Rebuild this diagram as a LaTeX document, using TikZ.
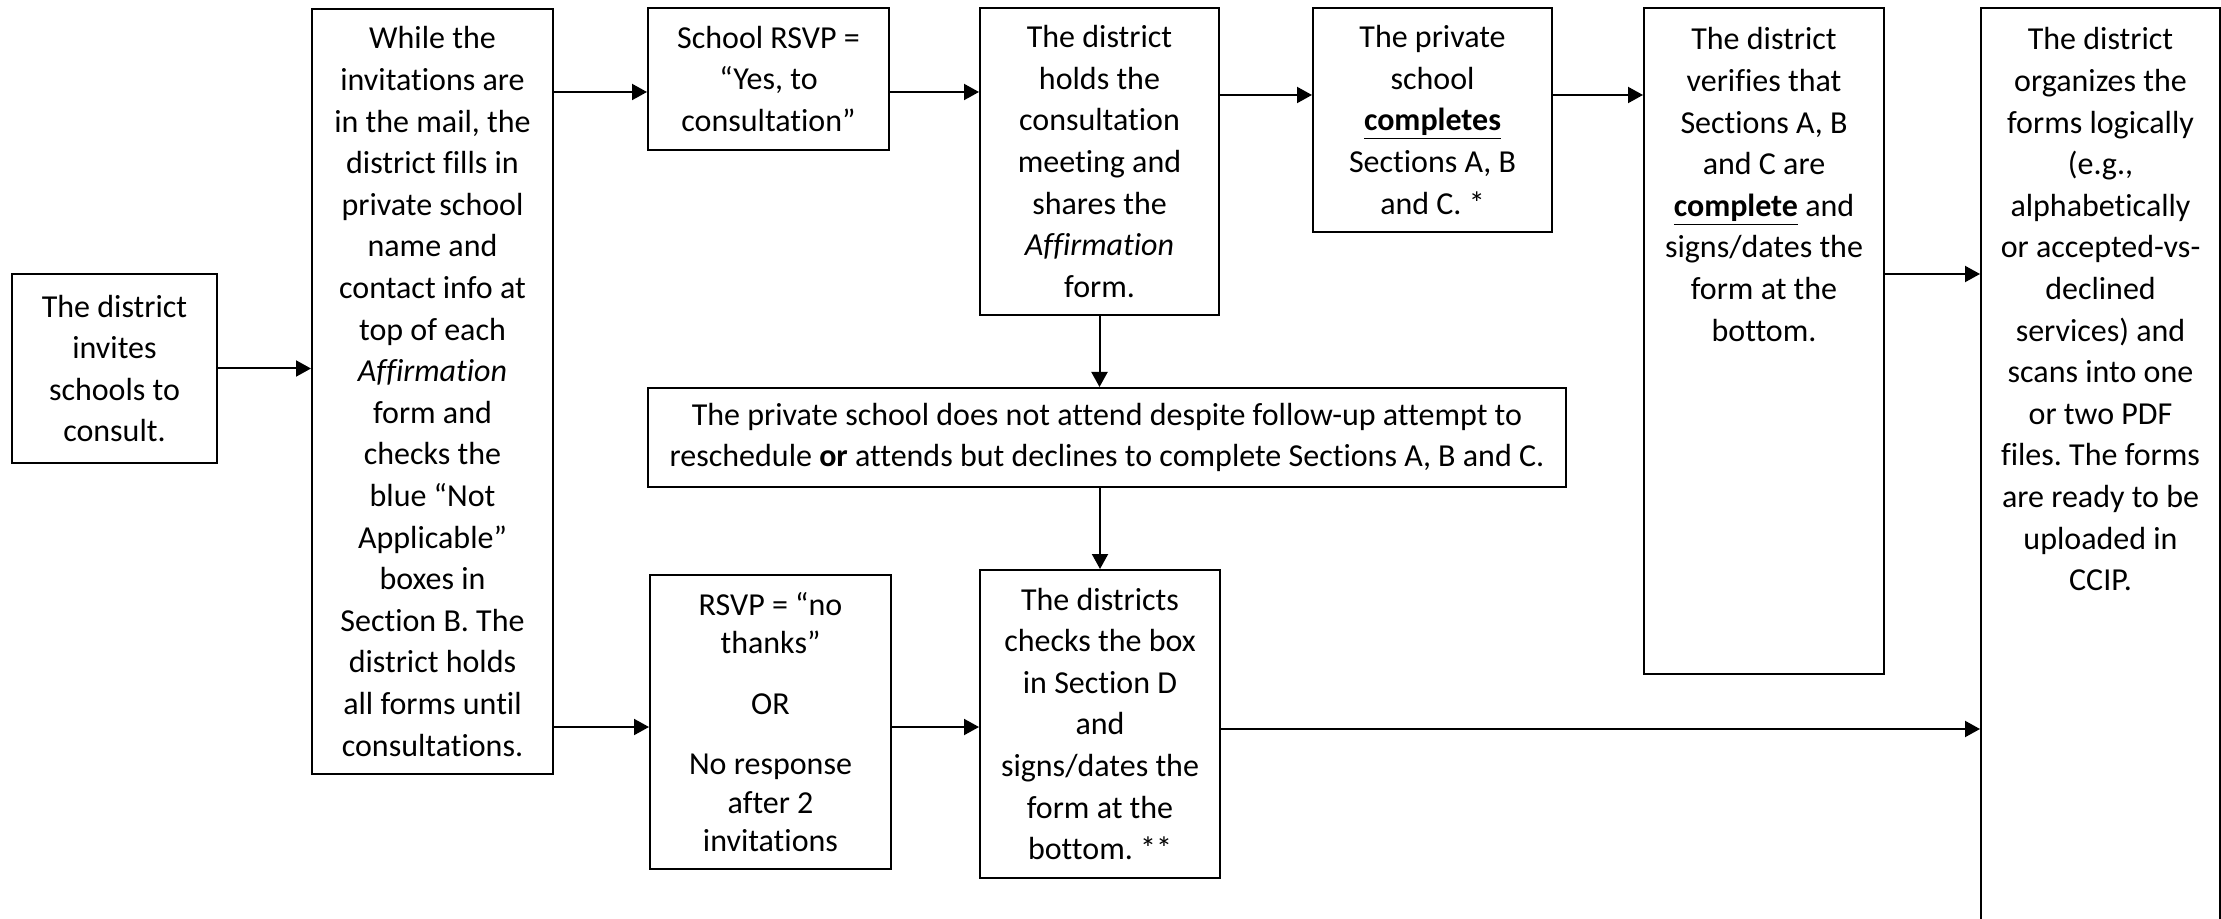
\documentclass[tikz,border=0pt]{standalone}
\usepackage{fontspec}
\setmainfont{Carlito}[Ligatures=NoCommon]
\frenchspacing
\usetikzlibrary{arrows.meta}
\tikzset{
box/.style={draw, line width=1pt, align=center, anchor=north west, inner sep=4pt, font=\fontsize{16}{20.8}\selectfont}, % every process box
topbox/.style={box, align=flush center, text height=17pt}, % text sits at the top of a tall box
arr/.style={-{Triangle[length=7.5pt,width=8pt]}, line width=1pt}, % the connectors
}

\begin{document}
\begin{tikzpicture}[x=0.5pt, y=-0.5pt]
\useasboundingbox (0,0) rectangle (2221,919);

\node[box, minimum width=102.5pt, minimum height=94.5pt] (invite) at (11,273) {The district\\ invites\\ schools to\\ consult.};
\node[box, minimum width=120.5pt, minimum height=382.5pt] (prep) at (311,8) {While the\\ invitations are\\ in the mail, the\\ district fills in\\ private school\\ name and\\ contact info at\\ top of each\\ \textit{Affirmation}\\ form and\\ checks the\\ blue “Not\\ Applicable”\\ boxes in\\ Section B. The\\ district holds\\ all forms until\\ consultations.};
\node[box, minimum width=120.5pt, minimum height=71pt] (yes) at (647,7) {School RSVP =\\ “Yes, to\\ consultation”};
\node[box, minimum width=119.5pt, minimum height=153.5pt] (meet) at (979,7) {The district\\ holds the\\ consultation\\ meeting and\\ shares the\\ \textit{Affirmation}\\ form.};
\node[box, minimum width=119.5pt, minimum height=112pt] (done) at (1312,7) {The private\\ school\\ \textbf{\underline{completes}}\\ Sections A, B\\ and C. *};
\node[topbox, text width=112pt, text depth=308pt] (check) at (1643,7) {The district\\ verifies that\\ Sections A, B\\ and C are\\ \textbf{\underline{complete}} and\\ signs/dates the\\ form at the\\ bottom.};
\node[topbox, text width=111.5pt, text depth=436.5pt] (org) at (1980,7) {The district\\ organizes the\\ forms logically\\ (e.g.,\\ alphabetically\\ or accepted-vs-\\ declined\\ services) and\\ scans into one\\ or two PDF\\ files. The forms\\ are ready to be\\ uploaded in\\ CCIP.};
\node[box, minimum width=459pt, minimum height=49.5pt, inner xsep=2pt] (skip) at (647,387) {The private school does not attend despite follow-up attempt to\\ reschedule \textbf{or} attends but declines to complete Sections A, B and C.};
\node[box, minimum width=120.5pt, minimum height=147pt, font=\fontsize{16}{19.2}\selectfont] (no) at (649,574) {RSVP = “no\\ thanks”\\[11pt] OR\\[11pt] No response\\ after 2\\ invitations};
\node[box, minimum width=120pt, minimum height=154pt] (sign) at (979,569) {The districts\\ checks the box\\ in Section D\\ and\\ signs/dates the\\ form at the\\ bottom. **};

\draw[arr] (invite.east) -- (prep.west |- invite.east);
\draw[arr] (prep.east |- 0,92) -- (yes.west |- 0,92);
\draw[arr] (yes.east |- 0,92) -- (meet.west |- 0,92);
\draw[arr] (meet.east |- 0,95) -- (done.west |- 0,95);
\draw[arr] (done.east |- 0,95) -- (check.west |- 0,95);
\draw[arr] (check.east |- 0,274) -- (org.west |- 0,274);
\draw[arr] (meet.south) -- (meet.south |- skip.north);
\draw[arr] (sign.north |- skip.south) -- (sign.north);
\draw[arr] (prep.east |- 0,727) -- (no.west |- 0,727);
\draw[arr] (no.east |- 0,727) -- (sign.west |- 0,727);
\draw[arr] (sign.east |- 0,729) -- (org.west |- 0,729);
\end{tikzpicture}
\end{document}
